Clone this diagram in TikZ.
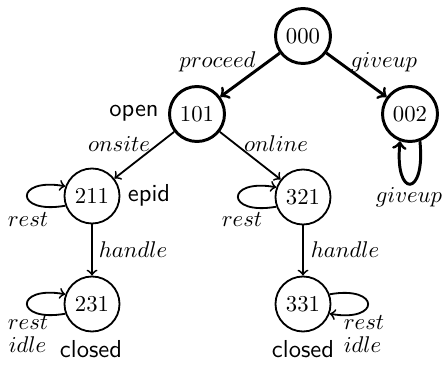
\documentclass[tikz,border=0pt]{standalone}
\begin{document}
\begin{tikzpicture}[x=0.44pt,y=-0.44pt,
  statebase/.style={circle,draw,minimum size=24.2pt,inner sep=0pt},
  thickstate/.style={statebase,line width=1.3pt},
  thinstate/.style={statebase,line width=0.8pt},
  thickedge/.style={->,line width=1.3pt},
  thinedge/.style={->,line width=0.8pt},
  lab/.style={anchor=base,inner sep=0pt},
  side/.style={anchor=base,inner sep=0pt,font=\fontsize{10.8}{13}\sffamily}]
\useasboundingbox (0,0) rectangle (443,369);
\node[thickstate] (s000) at (303,36) {000};
\node[thickstate] (s101) at (197,114) {101};
\node[thickstate] (s002) at (410,114) {002};
\node[thinstate] (s211) at (92,196) {211};
\node[thinstate] (s321) at (303,197) {321};
\node[thinstate] (s231) at (92,304) {231};
\node[thinstate] (s331) at (303,304) {331};

\draw[thickedge] (s000) -- (s101);
\draw[thickedge] (s000) -- (s002);
\draw[thickedge] (s002.-70) .. controls +(6,57) and +(-6,57) .. (s002.-110);
\draw[thinedge] (s101) -- (s211);
\draw[thinedge] (s101) -- (s321);
\draw[thinedge] (s211) -- (s231);
\draw[thinedge] (s321) -- (s331);
\draw[thinedge] (s211.200) .. controls +(-51,9) and +(-51,-9) .. (s211.160);
\draw[thinedge] (s321.200) .. controls +(-51,9) and +(-51,-9) .. (s321.160);
\draw[thinedge] (s231.200) .. controls +(-51,9) and +(-51,-9) .. (s231.160);
\draw[thinedge] (s331.20) .. controls +(51,-9) and +(51,9) .. (s331.-20);

\node[lab] (lproceed) at (217.5,68) {$proceed$};
\node[lab] (lgiveup) at (384,68) {$giveup$};
\node[lab] (lgiveupb) at (409,203) {$giveup$};
\node[lab] (lonsite) at (119,152) {$onsite$};
\node[lab] (lonline) at (276,152) {$online$};
\node[lab] (lrest1) at (28,227) {$rest$};
\node[lab] (lrest2) at (242,227) {$rest$};
\node[lab] (lhandle1) at (133,258) {$handle$};
\node[lab] (lhandle2) at (345,258) {$handle$};
\node[lab] (lrest3) at (28,330) {$rest$};
\node[lab] (lidle3) at (27.5,352) {$idle$};
\node[lab] (lrest4) at (364,330) {$rest$};
\node[lab] (lidle4) at (362.5,352) {$idle$};
\node[side] (topen) at (134,117) {open};
\node[side] (tepid) at (149,202) {epid};
\node[side] (tclosed1) at (91,358) {closed};
\node[side] (tclosed2) at (303,358) {closed};
\end{tikzpicture}
\end{document}
